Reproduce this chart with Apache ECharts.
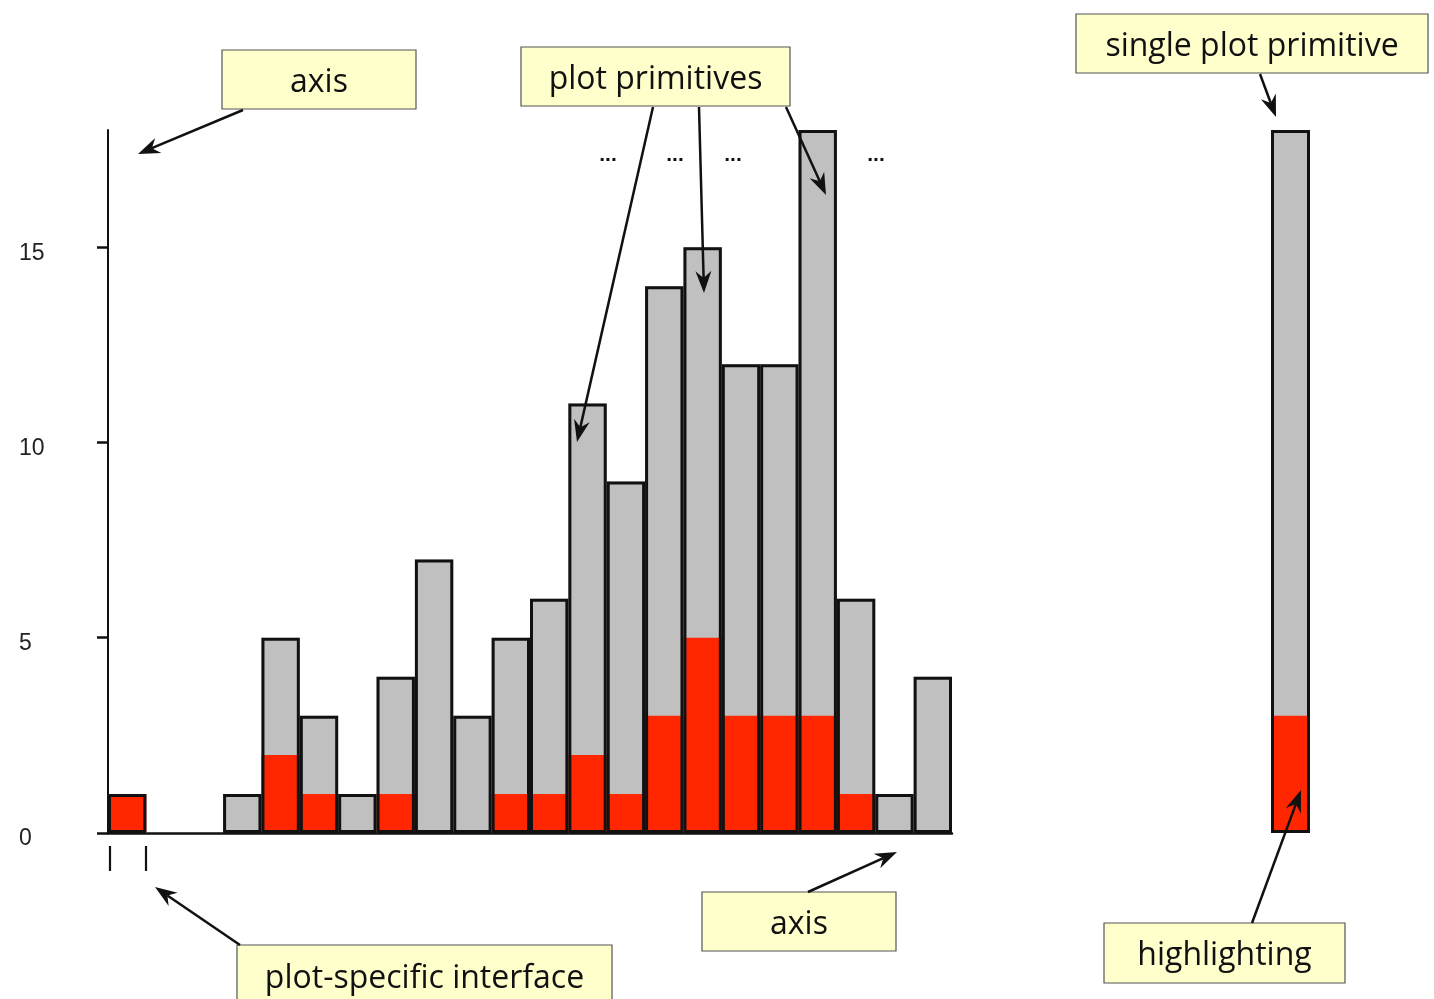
<!DOCTYPE html>
<html>
<head>
<meta charset="utf-8">
<script src="https://cdn.jsdelivr.net/npm/echarts@6/dist/echarts.min.js"></script>
<style>html,body{margin:0;padding:0;background:#fff;}#c{width:1434px;height:999px;}</style>
</head>
<body>
<div id="c"></div>
<script>
// ---- data ----
const bins = ['b1','b2','b3','b4','b5','b6','b7','b8','b9','b10','b11','b12','b13','b14','b15','b16','b17','b18','b19','b20','b21','b22'];
const totals      = [1,0,0,1,5,3,1,4,7,3,5,6,11,9,14,15,12,12,18,6,1,4];
const highlighted = [1,0,0,0,2,1,0,1,0,0,1,1,2,1,3,5,3,3,3,1,0,0];
const singleCat = ['single'];
const singleTotal = [18];
const singleHighlighted = [3];
const yTicks = [0,5,10,15];
const yMax = 18;

// ---- styles ----
const GRAY = '#c0c0c0', RED = '#ff2600', INK = '#111111';
const BOX_FILL = '#ffffcc', BOX_STROKE = '#555555';
const FONT = '"Open Sans", "Noto Sans", sans-serif';
const ZG = 100;

function box(x, y, w, h, text) {
  return {
    type: 'group',
    children: [
      {type:'rect', z:ZG, shape:{x:x, y:y, width:w, height:h}, style:{fill:BOX_FILL, stroke:BOX_STROKE, lineWidth:1.2}},
      {type:'text', z:ZG+1, x:x + w/2, y:y + h/2 + 3, style:{text:text, fill:INK, font:'32px ' + FONT, align:'center', verticalAlign:'middle'}}
    ]
  };
}
function arrow(x1, y1, x2, y2) {
  const dx = x2 - x1, dy = y2 - y1, L = Math.sqrt(dx*dx + dy*dy);
  const ux = dx / L, uy = dy / L, px = -uy, py = ux;
  const hl = 22, hw = 8, notch = 15;
  const bx = x2 - ux*hl, by = y2 - uy*hl;
  const nx = x2 - ux*notch, ny = y2 - uy*notch;
  return {
    type:'group',
    children: [
      {type:'line', z:ZG, shape:{x1:x1, y1:y1, x2:nx, y2:ny}, style:{stroke:INK, lineWidth:2.5}},
      {type:'polygon', z:ZG, shape:{points:[[x2,y2],[bx + px*hw, by + py*hw],[nx, ny],[bx - px*hw, by - py*hw]]}, style:{fill:INK}}
    ]
  };
}
function dots(x, y) {
  return {type:'text', z:ZG, x:x, y:y, style:{text:'...', fill:INK, font:'bold 21px "Liberation Sans", sans-serif', align:'center', verticalAlign:'middle'}};
}
function vline(x, y1, y2) {
  return {type:'line', z:ZG, shape:{x1:x, y1:y1, x2:x, y2:y2}, style:{stroke:INK, lineWidth:2.2}};
}

const chart = echarts.init(document.getElementById('c'));
const barBase = {type:'bar', barCategoryGap:'0%', barGap:'-100%', animation:false, silent:true};

chart.setOption({
  animation: false,
  backgroundColor: '#ffffff',
  grid: [
    {left:108, top:130, width:844, height:703},
    {left:1271, top:130, width:39, height:703}
  ],
  xAxis: [
    {type:'category', gridIndex:0, data:bins, boundaryGap:true,
     axisLine:{show:true, lineStyle:{color:INK, width:2.5}}, axisTick:{show:false}, axisLabel:{show:false}, splitLine:{show:false}},
    {type:'category', gridIndex:1, data:singleCat, show:false}
  ],
  yAxis: [
    {type:'value', gridIndex:0, min:0, max:yMax,
     axisLine:{show:true, lineStyle:{color:INK, width:2}},
     axisTick:{show:true, length:11, lineStyle:{color:INK, width:2.5}, customValues:yTicks},
     axisLabel:{show:true, customValues:yTicks, align:'left', verticalAlign:'top', lineHeight:12, margin:89, color:'#222', fontSize:23, fontFamily:'"Liberation Sans", Arial, sans-serif'},
     splitLine:{show:false}},
    {type:'value', gridIndex:1, min:0, max:yMax, show:false, splitLine:{show:false}}
  ],
  series: [
    Object.assign({}, barBase, {name:'total', xAxisIndex:0, yAxisIndex:0, data:totals, itemStyle:{color:GRAY}, z:2}),
    Object.assign({}, barBase, {name:'highlighted', xAxisIndex:0, yAxisIndex:0, data:highlighted, itemStyle:{color:RED}, z:3}),
    Object.assign({}, barBase, {name:'outline', xAxisIndex:0, yAxisIndex:0, data:totals.map(v => v > 0 ? v : null), itemStyle:{color:'rgba(0,0,0,0)', borderColor:INK, borderWidth:3}, z:4}),
    Object.assign({}, barBase, {name:'single total', xAxisIndex:1, yAxisIndex:1, data:singleTotal, itemStyle:{color:GRAY}, z:2}),
    Object.assign({}, barBase, {name:'single highlighted', xAxisIndex:1, yAxisIndex:1, data:singleHighlighted, itemStyle:{color:RED}, z:3}),
    Object.assign({}, barBase, {name:'single outline', xAxisIndex:1, yAxisIndex:1, data:singleTotal, itemStyle:{color:'rgba(0,0,0,0)', borderColor:INK, borderWidth:3}, z:4})
  ],
  graphic: [
    box(222, 50, 194, 59, 'axis'),
    arrow(243, 110, 138, 154),
    box(521, 47, 269, 59, 'plot primitives'),
    arrow(653, 107, 577, 442),
    arrow(699, 107, 704, 293),
    arrow(786, 107, 826, 195),
    box(1076, 14, 352, 59, 'single plot primitive'),
    arrow(1260, 74, 1276, 117),
    box(237, 945, 375, 62, 'plot-specific interface'),
    arrow(240, 945, 155, 887),
    box(702, 892, 194, 59, 'axis'),
    arrow(808, 892, 897, 852),
    box(1104, 923, 241, 60, 'highlighting'),
    arrow(1252, 923, 1301, 790),
    dots(608, 155), dots(675, 155), dots(733, 155), dots(876, 155),
    vline(110, 846, 871), vline(146, 846, 871)
  ]
});
</script>
</body>
</html>
